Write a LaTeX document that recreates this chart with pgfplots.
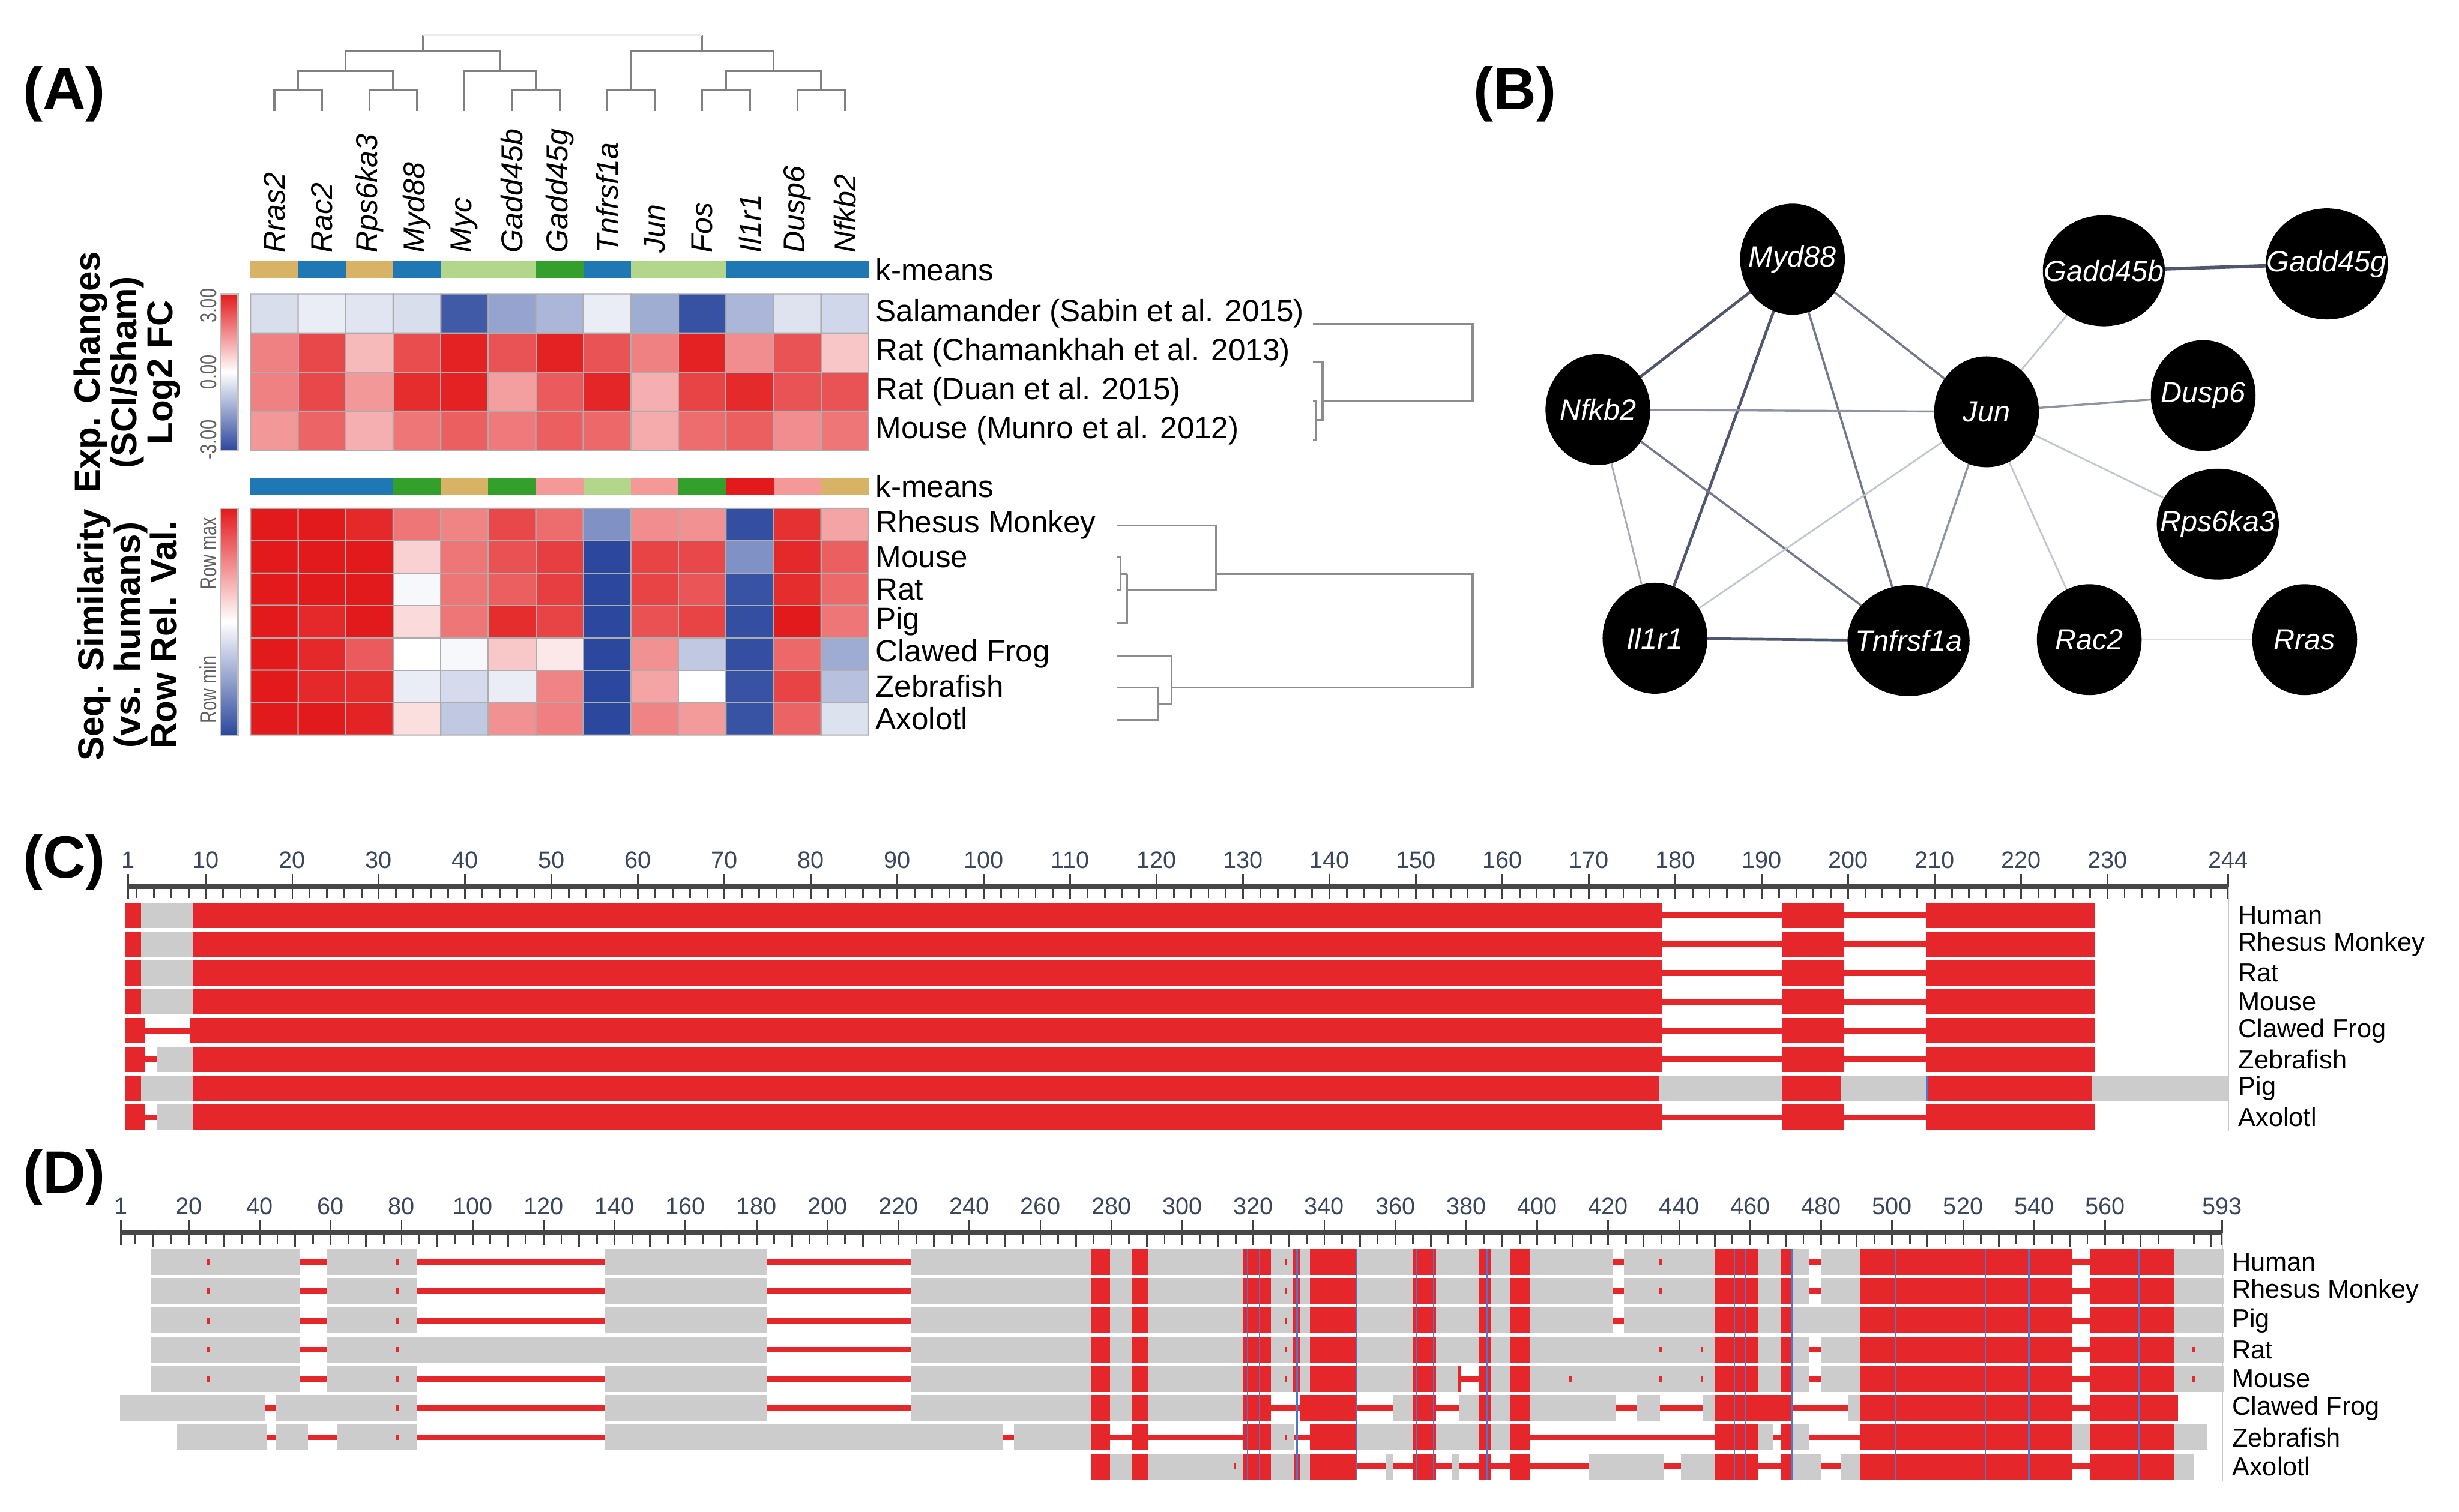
\documentclass[border=0pt]{standalone}
\usepackage{fontspec}
\setmainfont{Liberation Sans}
\usepackage{pgfplots}
\pgfplotsset{compat=1.18}

\definecolor{alnred}{RGB}{229,39,43}
\definecolor{alngray}{RGB}{204,204,204}
\definecolor{alnblue}{RGB}{78,118,205}
\definecolor{tickblue}{RGB}{58,70,92}
\definecolor{kmtan}{RGB}{216,178,101}
\definecolor{kmblue}{RGB}{31,120,180}
\definecolor{kmlgreen}{RGB}{178,214,138}
\definecolor{kmgreen}{RGB}{51,160,44}
\definecolor{kmpink}{RGB}{245,152,152}
\definecolor{kmred}{RGB}{227,26,28}
\definecolor{dendro}{RGB}{128,128,128}
\definecolor{edgeA}{RGB}{80,86,108}
\definecolor{edgeB}{RGB}{115,120,138}
\definecolor{edgeC}{RGB}{142,147,162}
\definecolor{edgeD}{RGB}{168,172,184}
\definecolor{edgeE}{RGB}{194,198,208}
\definecolor{edgeF}{RGB}{220,222,230}

\newcommand{\fs}[1]{\fontsize{#1}{#1}\selectfont}

\pgfplotsset{
  colormap={bwr}{rgb255=(44,72,158) rgb255=(255,255,255) rgb255=(227,26,28)},
  seg/.style={no markers, unbounded coords=jump, line cap=butt, line join=miter},
  heat/.style={scale only axis, anchor=south west, width=197.05pt, xmin=-0.5, xmax=12.5, clip=false,
    axis line style={draw=none}, tick style={draw=none}, colormap name=bwr,
    yticklabel pos=right,
    yticklabel style={anchor=west, inner sep=0pt, xshift=2pt, font=\fs{9.8}},
    colorbar, colorbar shift/.style={xshift=-4pt}},
  cbar/.style={at={(parent axis.south west)}, anchor=south east, width=5.6pt,
    yticklabel pos=left, axis line style={draw=black!25, line width=0.4pt}, tick style={draw=none},
    yticklabel style={rotate=90, xscale=0.75, anchor=south, inner sep=1pt, font=\fs{7.4}, text=black!62}},
  aln/.style={scale only axis, anchor=south west, ymin=-8.5, ymax=0, clip=false,
    axis x line*=top, axis y line*=right,
    x axis line style={line width=1.5pt, black!72},
    y axis line style={line width=0.4pt, black!22},
    tick align=center, major tick length=8pt, minor tick length=4pt,
    xtick style={black!75, line width=0.55pt},
    minor x tick style={yshift=-1.6pt},
    xticklabel style={font=\fs{7.6}, text=tickblue, inner sep=1.5pt},
    ytick={-1,-2,-3,-4,-5,-6,-7,-8}, ytick style={draw=none},
    yticklabel style={font=\fs{8.3}, anchor=west, inner sep=0pt, xshift=-1pt},
    /pgf/number format/assume math mode=true},
}

\begin{document}
\begin{tikzpicture}
\path[use as bounding box] (0,0) rectangle (784pt,482pt);

% ---------- canvas: panel letters, dendrograms, network ----------
\begin{axis}[at={(0pt,0pt)}, anchor=south west, scale only axis, width=784pt, height=482pt,
  xmin=0, xmax=1568, ymin=-964, ymax=0, hide axis, clip=false]
% gene dendrogram
\addplot[seg, dendro, line width=0.6pt] coordinates {
 (174.96,-70.8) (174.96,-57.4) (205.28,-57.4) (205.28,-70.8) (nan,nan)
 (235.6,-70.8) (235.6,-57.4) (265.9,-57.4) (265.9,-70.8) (nan,nan)
 (190.1,-57.4) (190.1,-45.3) (250.75,-45.3) (250.75,-57.4) (nan,nan)
 (326.5,-70.8) (326.5,-57.4) (356.9,-57.4) (356.9,-70.8) (nan,nan)
 (296.2,-70.8) (296.2,-45.3) (341.7,-45.3) (341.7,-57.4) (nan,nan)
 (220.4,-45.3) (220.4,-32.9) (318.95,-32.9) (318.95,-45.3) (nan,nan)
 (269.7,-32.9) (269.7,-22.3) (nan,nan)
 (387.2,-70.8) (387.2,-57.4) (417.5,-57.4) (417.5,-70.8) (nan,nan)
 (447.8,-70.8) (447.8,-57.4) (478.1,-57.4) (478.1,-70.8) (nan,nan)
 (508.5,-70.8) (508.5,-57.4) (538.8,-57.4) (538.8,-70.8) (nan,nan)
 (462.95,-57.4) (462.95,-45.3) (523.65,-45.3) (523.65,-57.4) (nan,nan)
 (402.35,-57.4) (402.35,-32.9) (493.3,-32.9) (493.3,-45.3) (nan,nan)
 (447.8,-32.9) (447.8,-22.3)
};
\addplot[seg, black!8, line width=0.6pt] coordinates {(269.7,-22.3) (447.8,-22.3)};
% study dendrogram
\addplot[seg, black!45, line width=0.6pt] coordinates {
 (837.2,-206.5) (939,-206.5) (939,-255.5) (843.3,-255.5) (nan,nan)
 (837.2,-231.2) (843.3,-231.2) (843.3,-267.9) (839.1,-267.9) (nan,nan)
 (837.2,-255.9) (839.1,-255.9) (839.1,-280.5) (837.2,-280.5)
};
% species dendrogram
\addplot[seg, black!45, line width=0.6pt] coordinates {
 (712.5,-335.3) (775.3,-335.3) (775.3,-376.4) (718.8,-376.4) (nan,nan)
 (775.3,-366.3) (939,-366.3) (939,-438.4) (747.2,-438.4) (nan,nan)
 (712.5,-418.3) (747.2,-418.3) (747.2,-448.7) (738.7,-448.7) (nan,nan)
 (712.5,-438.4) (738.7,-438.4) (738.7,-459.4) (712.5,-459.4) (nan,nan)
 (718.8,-366.3) (718.8,-397.4) (712.5,-397.4) (nan,nan)
 (714.5,-366.3) (718.8,-366.3) (nan,nan)
 (712.5,-355.6) (714.5,-355.6) (714.5,-376.4) (712.5,-376.4)
};
% network edges
\addplot[seg, edgeA, line width=0.9pt] coordinates {(1143.0,-165.3) (1018.9,-261.2) (nan,nan) (1143.0,-165.3) (1055.3,-407.1) (nan,nan) (1055.3,-407.1) (1217.0,-408.6)};
\addplot[seg, edgeA, line width=1.1pt] coordinates {(1341.5,-172.7) (1483.7,-168.3)};
\addplot[seg, edgeB, line width=0.7pt] coordinates {(1143.0,-165.3) (1217.0,-408.6) (nan,nan) (1143.0,-165.3) (1266.7,-262.6) (nan,nan) (1018.9,-261.2) (1217.0,-408.6)};
\addplot[seg, edgeC, line width=0.65pt] coordinates {(1266.7,-262.6) (1217.0,-408.6) (nan,nan) (1266.7,-262.6) (1404.9,-252.3) (nan,nan) (1018.9,-261.2) (1266.7,-262.6)};
\addplot[seg, edgeD, line width=0.55pt] coordinates {(1018.9,-261.2) (1055.3,-407.1)};
\addplot[seg, edgeE, line width=0.55pt] coordinates {(1055.3,-407.1) (1266.7,-262.6) (nan,nan) (1266.7,-262.6) (1341.5,-172.7) (nan,nan) (1266.7,-262.6) (1414.2,-334.3) (nan,nan) (1266.7,-262.6) (1332.2,-408.0)};
\addplot[seg, edgeF, line width=0.55pt] coordinates {(1332.2,-408.0) (1469.6,-408.0)};
% network nodes
\addplot[only marks, mark=*, mark size=17.5pt, mark options={fill=black, draw=black, xscale=0.943},
  nodes near coords, point meta=explicit symbolic,
  every node near coord/.append style={anchor=center, text=white, font=\itshape\fs{9.3}}]
  table[meta=label] {
x y label
1143.0 -165.3 Myd88
1018.9 -261.2 Nfkb2
1266.7 -262.6 Jun
1404.9 -252.3 Dusp6
1055.3 -407.1 Il1r1
1332.2 -408.0 Rac2
1469.6 -408.0 Rras
};
\addplot[only marks, mark=*, mark size=17.5pt, mark options={fill=black, draw=black, xscale=1.1},
  nodes near coords, point meta=explicit symbolic,
  every node near coord/.append style={anchor=center, text=white, font=\itshape\fs{9.3}}]
  table[meta=label] {
x y label
1341.5 -172.7 Gadd45b
1483.7 -168.3 Gadd45g
1414.2 -334.3 Rps6ka3
1217.0 -408.6 Tnfrsf1a
};
\node[font=\bfseries\fs{19}] at (axis cs:41,-60) {(A)};
\node[font=\bfseries\fs{19}] at (axis cs:966,-60) {(B)};
\node[font=\bfseries\fs{19}] at (axis cs:41,-550) {(C)};
\node[font=\bfseries\fs{19}] at (axis cs:41,-751) {(D)};
\node[rotate=90, align=center, font=\bfseries\fs{11.5}, inner sep=0pt] at (axis cs:81,-237.5) {Exp. Changes\\(SCI/Sham)\\Log2 FC};
\node[rotate=90, align=center, font=\bfseries\fs{11.5}, inner sep=0pt] at (axis cs:81,-405) {Seq. Similarity\\(vs. humans)\\Row Rel. Val.};
\end{axis}

% ---------- (A) expression heatmap ----------
\begin{axis}[heat, at={(79.9pt,338.4pt)}, height=49.9pt, ymin=-3.5, ymax=0.5,
  point meta min=-3, point meta max=3,
  xtick={0,1,2,3,4,5,6,7,8,9,10,11,12},
  xticklabels={Rras2,Rac2,Rps6ka3,Myd88,Myc,Gadd45b,Gadd45g,Tnfrsf1a,Jun,Fos,Il1r1,Dusp6,Nfkb2},
  xticklabel pos=right, xticklabel shift=12.85pt,
  xticklabel style={rotate=90, anchor=west, inner sep=0pt, font=\itshape\fs{9.6}},
  ytick={0,-1,-2,-3},
  yticklabels={{Salamander (Sabin et al. 2015)},{Rat (Chamankhah et al. 2013)},{Rat (Duan et al. 2015)},{Mouse (Munro et al. 2012)}},
  colorbar style={cbar, ytick={-2.6,0,2.55}, yticklabels={-3.00,0.00,3.00}}]
\addplot[matrix plot*, shader=faceted, faceted color=black!32, mesh/cols=13, point meta=explicit] table[meta=c] {
x y c
0 0 -0.54
1 0 -0.3
2 0 -0.42
3 0 -0.54
4 0 -2.7
5 0 -1.5
6 0 -1.2
7 0 -0.3
8 0 -1.35
9 0 -2.85
10 0 -1.2
11 0 -0.45
12 0 -0.66
0 -1 1.65
1 -1 2.4
2 -1 0.9
3 -1 2.34
4 -1 2.9
5 -1 2.25
6 -1 2.9
7 -1 2.25
8 -1 1.65
9 -1 2.9
10 -1 1.5
11 -1 2.25
12 -1 0.75
0 -2 1.65
1 -2 2.4
2 -2 1.35
3 -2 2.76
4 -2 2.9
5 -2 1.26
6 -2 2.16
7 -2 2.85
8 -2 1.05
9 -2 2.46
10 -2 2.8
11 -2 2.25
12 -2 2.25
0 -3 1.35
1 -3 2.04
2 -3 1.05
3 -3 1.8
4 -3 2.1
5 -3 1.74
6 -3 2.1
7 -3 1.98
8 -3 1.11
9 -3 1.92
10 -3 2.1
11 -3 1.5
12 -3 1.8
};
% k-means row
\addplot[seg, kmtan, line width=5.5pt] coordinates {(-0.5,1.121) (0.5,1.121) (nan,nan) (1.5,1.121) (2.5,1.121)};
\addplot[seg, kmblue, line width=5.5pt] coordinates {(0.5,1.121) (1.5,1.121) (nan,nan) (2.5,1.121) (3.5,1.121) (nan,nan) (6.5,1.121) (7.5,1.121) (nan,nan) (9.5,1.121) (12.5,1.121)};
\addplot[seg, kmlgreen, line width=5.5pt] coordinates {(3.5,1.121) (5.5,1.121) (nan,nan) (7.5,1.121) (9.5,1.121)};
\addplot[seg, kmgreen, line width=5.5pt] coordinates {(5.5,1.121) (6.5,1.121)};
\node[anchor=west, inner sep=0pt, xshift=2pt, font=\fs{9.8}] at (axis cs:12.5,1.121) {k-means};
\end{axis}

% ---------- (A) sequence similarity heatmap ----------
\begin{axis}[heat, at={(79.9pt,247.6pt)}, height=72.3pt, ymin=-6.5, ymax=0.5,
  point meta min=0, point meta max=1, xtick=\empty,
  ytick={0,-1,-2,-3,-4,-5,-6},
  yticklabels={Rhesus Monkey,Mouse,Rat,Pig,Clawed Frog,Zebrafish,Axolotl},
  colorbar style={cbar, ytick={0.2,0.8}, yticklabels={Row min,Row max}}]
\addplot[matrix plot*, shader=faceted, faceted color=black!32, mesh/cols=13, point meta=explicit] table[meta=c] {
x y c
0 0 1.0
1 0 1.0
2 0 0.97
3 0 0.8
4 0 0.77
5 0 0.9
6 0 0.82
7 0 0.2
8 0 0.75
9 0 0.74
10 0 0.02
11 0 0.95
12 0 0.7
0 -1 1.0
1 -1 1.0
2 -1 1.0
3 -1 0.6
4 -1 0.8
5 -1 0.88
6 -1 0.92
7 -1 0.0
8 -1 0.91
9 -1 0.9
10 -1 0.2
11 -1 0.97
12 -1 0.85
0 -2 1.0
1 -2 1.0
2 -2 1.0
3 -2 0.48
4 -2 0.8
5 -2 0.85
6 -2 0.92
7 -2 0.0
8 -2 0.91
9 -2 0.87
10 -2 0.03
11 -2 0.96
12 -2 0.83
0 -3 1.0
1 -3 0.97
2 -3 1.0
3 -3 0.58
4 -3 0.8
5 -3 0.96
6 -3 0.91
7 -3 0.0
8 -3 0.88
9 -3 0.91
10 -3 0.02
11 -3 1.0
12 -3 0.8
0 -4 1.0
1 -4 0.97
2 -4 0.86
3 -4 0.5
4 -4 0.48
5 -4 0.62
6 -4 0.55
7 -4 0.0
8 -4 0.74
9 -4 0.35
10 -4 0.02
11 -4 0.83
12 -4 0.27
0 -5 1.0
1 -5 0.97
2 -5 0.96
3 -5 0.45
4 -5 0.4
5 -5 0.45
6 -5 0.77
7 -5 0.0
8 -5 0.7
9 -5 0.5
10 -5 0.03
11 -5 0.91
12 -5 0.33
0 -6 1.0
1 -6 1.0
2 -6 0.98
3 -6 0.57
4 -6 0.35
5 -6 0.74
6 -6 0.78
7 -6 0.0
8 -6 0.77
9 -6 0.72
10 -6 0.03
11 -6 0.84
12 -6 0.42
};
\addplot[seg, kmblue, line width=5.25pt] coordinates {(-0.5,1.178) (2.5,1.178)};
\addplot[seg, kmgreen, line width=5.25pt] coordinates {(2.5,1.178) (3.5,1.178) (nan,nan) (4.5,1.178) (5.5,1.178) (nan,nan) (8.5,1.178) (9.5,1.178)};
\addplot[seg, kmtan, line width=5.25pt] coordinates {(3.5,1.178) (4.5,1.178) (nan,nan) (11.5,1.178) (12.5,1.178)};
\addplot[seg, kmpink, line width=5.25pt] coordinates {(5.5,1.178) (6.5,1.178) (nan,nan) (7.5,1.178) (8.5,1.178) (nan,nan) (10.5,1.178) (11.5,1.178)};
\addplot[seg, kmlgreen, line width=5.25pt] coordinates {(6.5,1.178) (7.5,1.178)};
\addplot[seg, kmred, line width=5.25pt] coordinates {(9.5,1.178) (10.5,1.178)};
\node[anchor=west, inner sep=0pt, xshift=2pt, font=\fs{9.8}] at (axis cs:12.5,1.178) {k-means};
\end{axis}

% ---------- (C) alignment, 244 residues ----------
\begin{axis}[aln, at={(40.85pt,121.15pt)}, width=669.6pt, height=78.2pt, xmin=1, xmax=244,
  xtick={1,10,20,30,40,50,60,70,80,90,100,110,120,130,140,150,160,170,180,190,200,210,220,230,244},
  minor xtick={2,4,...,244},
  yticklabels={Human,Rhesus Monkey,Rat,Mouse,Clawed Frog,Zebrafish,Pig,Axolotl}]
\addplot[seg, alngray, line width=8pt] coordinates {
 (2.5,-1) (8.5,-1) (nan,nan) (2.5,-2) (8.5,-2) (nan,nan) (2.5,-3) (8.5,-3) (nan,nan) (2.5,-4) (8.5,-4) (nan,nan)
 (4.3,-6) (8.5,-6) (nan,nan)
 (2.5,-7) (8.5,-7) (nan,nan) (178.1,-7) (192.4,-7) (nan,nan) (199.2,-7) (209.1,-7) (nan,nan) (228.2,-7) (244,-7) (nan,nan)
 (4.3,-8) (8.5,-8)
};
\addplot[seg, alnred, line width=1.8pt] coordinates {
 (178.5,-1) (192.4,-1) (nan,nan) (199.5,-1) (209.1,-1) (nan,nan)
 (178.5,-2) (192.4,-2) (nan,nan) (199.5,-2) (209.1,-2) (nan,nan)
 (178.5,-3) (192.4,-3) (nan,nan) (199.5,-3) (209.1,-3) (nan,nan)
 (178.5,-4) (192.4,-4) (nan,nan) (199.5,-4) (209.1,-4) (nan,nan)
 (2.9,-5) (8.2,-5) (nan,nan) (178.5,-5) (192.4,-5) (nan,nan) (199.5,-5) (209.1,-5) (nan,nan)
 (2.9,-6) (4.3,-6) (nan,nan) (178.5,-6) (192.4,-6) (nan,nan) (199.5,-6) (209.1,-6) (nan,nan)
 (2.9,-8) (4.3,-8) (nan,nan) (178.5,-8) (192.4,-8) (nan,nan) (199.5,-8) (209.1,-8)
};
\addplot[seg, alnred, line width=8pt] coordinates {
 (0.7,-1) (2.5,-1) (nan,nan) (8.5,-1) (178.5,-1) (nan,nan) (192.4,-1) (199.5,-1) (nan,nan) (209.1,-1) (228.5,-1) (nan,nan)
 (0.7,-2) (2.5,-2) (nan,nan) (8.5,-2) (178.5,-2) (nan,nan) (192.4,-2) (199.5,-2) (nan,nan) (209.1,-2) (228.5,-2) (nan,nan)
 (0.7,-3) (2.5,-3) (nan,nan) (8.5,-3) (178.5,-3) (nan,nan) (192.4,-3) (199.5,-3) (nan,nan) (209.1,-3) (228.5,-3) (nan,nan)
 (0.7,-4) (2.5,-4) (nan,nan) (8.5,-4) (178.5,-4) (nan,nan) (192.4,-4) (199.5,-4) (nan,nan) (209.1,-4) (228.5,-4) (nan,nan)
 (0.7,-5) (2.9,-5) (nan,nan) (8.2,-5) (178.5,-5) (nan,nan) (192.4,-5) (199.5,-5) (nan,nan) (209.1,-5) (228.5,-5) (nan,nan)
 (0.7,-6) (2.9,-6) (nan,nan) (8.5,-6) (178.5,-6) (nan,nan) (192.4,-6) (199.5,-6) (nan,nan) (209.1,-6) (228.5,-6) (nan,nan)
 (0.7,-7) (2.5,-7) (nan,nan) (8.5,-7) (178.1,-7) (nan,nan) (192.4,-7) (199.2,-7) (nan,nan) (209.1,-7) (228.2,-7) (nan,nan)
 (0.7,-8) (2.9,-8) (nan,nan) (8.5,-8) (178.5,-8) (nan,nan) (192.4,-8) (199.5,-8) (nan,nan) (209.1,-8) (228.5,-8)
};
\addplot[seg, alnblue, line width=0.45pt] coordinates {(209.1,-6.55) (209.1,-7.45)};
\end{axis}

% ---------- (D) alignment, 593 residues ----------
\begin{axis}[aln, at={(38.65pt,9.7pt)}, width=669.85pt, height=79.2pt, xmin=1, xmax=593,
  xtick={1,20,40,60,80,100,120,140,160,180,200,220,240,260,280,300,320,340,360,380,400,420,440,460,480,500,520,540,560,593},
  minor xtick={5,15,...,585},
  extra x ticks={10,30,...,590}, extra x tick labels={},
  extra x tick style={major tick length=5pt, yshift=-2pt},
  yticklabels={Human,Rhesus Monkey,Pig,Rat,Mouse,Clawed Frog,Zebrafish,Axolotl}]
\addplot[seg, alngray, line width=8.3pt] coordinates {
 (9.4,-1) (51.3,-1) (nan,nan) (58.8,-1) (84.4,-1) (nan,nan) (137.4,-1) (183.1,-1) (nan,nan) (223.4,-1) (274.2,-1) (nan,nan) (279.7,-1) (285.7,-1) (nan,nan) (290.5,-1) (317.2,-1) (nan,nan) (325,-1) (331,-1) (nan,nan) (333,-1) (336,-1) (nan,nan) (349.3,-1) (364.8,-1) (nan,nan) (371.4,-1) (383.6,-1) (nan,nan) (386.9,-1) (392.5,-1) (nan,nan) (398,-1) (421.2,-1) (nan,nan) (424.5,-1) (450,-1) (nan,nan) (462.1,-1) (468.8,-1) (nan,nan) (472.1,-1) (476.5,-1) (nan,nan) (479.9,-1) (490.9,-1) (nan,nan) (579.4,-1) (593.4,-1) (nan,nan)
 (9.4,-2) (51.3,-2) (nan,nan) (58.8,-2) (84.4,-2) (nan,nan) (137.4,-2) (183.1,-2) (nan,nan) (223.4,-2) (274.2,-2) (nan,nan) (279.7,-2) (285.7,-2) (nan,nan) (290.5,-2) (317.2,-2) (nan,nan) (325,-2) (331,-2) (nan,nan) (333,-2) (336,-2) (nan,nan) (349.3,-2) (364.8,-2) (nan,nan) (371.4,-2) (383.6,-2) (nan,nan) (386.9,-2) (392.5,-2) (nan,nan) (398,-2) (421.2,-2) (nan,nan) (424.5,-2) (450,-2) (nan,nan) (462.1,-2) (468.8,-2) (nan,nan) (472.1,-2) (476.5,-2) (nan,nan) (479.9,-2) (490.9,-2) (nan,nan) (579.4,-2) (593.4,-2) (nan,nan)
 (9.4,-3) (51.3,-3) (nan,nan) (58.8,-3) (84.4,-3) (nan,nan) (137.4,-3) (183.1,-3) (nan,nan) (223.4,-3) (274.2,-3) (nan,nan) (279.7,-3) (285.7,-3) (nan,nan) (290.5,-3) (317.2,-3) (nan,nan) (325,-3) (331,-3) (nan,nan) (333,-3) (336,-3) (nan,nan) (349.3,-3) (364.8,-3) (nan,nan) (371.4,-3) (383.6,-3) (nan,nan) (386.9,-3) (392.5,-3) (nan,nan) (398,-3) (421.2,-3) (nan,nan) (424.5,-3) (450,-3) (nan,nan) (462.1,-3) (468.8,-3) (nan,nan) (472.1,-3) (490.9,-3) (nan,nan) (579.4,-3) (593.4,-3) (nan,nan)
 (9.4,-4) (51.3,-4) (nan,nan) (58.8,-4) (183.1,-4) (nan,nan) (223.4,-4) (274.2,-4) (nan,nan) (279.7,-4) (285.7,-4) (nan,nan) (290.5,-4) (317.2,-4) (nan,nan) (325,-4) (331,-4) (nan,nan) (333,-4) (336,-4) (nan,nan) (349.3,-4) (364.8,-4) (nan,nan) (371.4,-4) (383.6,-4) (nan,nan) (386.9,-4) (392.5,-4) (nan,nan) (398,-4) (450,-4) (nan,nan) (462.1,-4) (468.8,-4) (nan,nan) (472.1,-4) (476.5,-4) (nan,nan) (479.9,-4) (490.9,-4) (nan,nan) (579.4,-4) (593.4,-4) (nan,nan)
 (9.4,-5) (51.3,-5) (nan,nan) (58.8,-5) (84.4,-5) (nan,nan) (137.4,-5) (183.1,-5) (nan,nan) (223.4,-5) (274.2,-5) (nan,nan) (279.7,-5) (285.7,-5) (nan,nan) (290.5,-5) (317.2,-5) (nan,nan) (325,-5) (331,-5) (nan,nan) (333,-5) (336,-5) (nan,nan) (349.3,-5) (364.8,-5) (nan,nan) (371.4,-5) (378.1,-5) (nan,nan) (386.9,-5) (392.5,-5) (nan,nan) (398,-5) (450,-5) (nan,nan) (462.1,-5) (468.8,-5) (nan,nan) (472.1,-5) (476.5,-5) (nan,nan) (479.9,-5) (490.9,-5) (nan,nan) (579.4,-5) (593.4,-5) (nan,nan)
 (0.6,-6) (41.4,-6) (nan,nan) (44.7,-6) (84.4,-6) (nan,nan) (137.4,-6) (183.1,-6) (nan,nan) (223.4,-6) (274.2,-6) (nan,nan) (279.7,-6) (285.7,-6) (nan,nan) (290.5,-6) (317.2,-6) (nan,nan) (359.3,-6) (364.8,-6) (nan,nan) (378.1,-6) (383.6,-6) (nan,nan) (386.9,-6) (392.5,-6) (nan,nan) (398,-6) (422.3,-6) (nan,nan) (428,-6) (434.5,-6) (nan,nan) (446.7,-6) (450,-6) (nan,nan) (487.6,-6) (490.9,-6) (nan,nan)
 (16.5,-7) (42.2,-7) (nan,nan) (44.7,-7) (53.6,-7) (nan,nan) (61.7,-7) (84.4,-7) (nan,nan) (137.4,-7) (249.4,-7) (nan,nan) (252.6,-7) (274.2,-7) (nan,nan) (325,-7) (331.6,-7) (nan,nan) (349.3,-7) (364.8,-7) (nan,nan) (371.4,-7) (383.6,-7) (nan,nan) (386.9,-7) (392.5,-7) (nan,nan) (462.1,-7) (466.5,-7) (nan,nan) (472.1,-7) (476.5,-7) (nan,nan) (550.7,-7) (555.7,-7) (nan,nan) (579.4,-7) (588.9,-7) (nan,nan)
 (279.7,-8) (285.7,-8) (nan,nan) (290.5,-8) (317.2,-8) (nan,nan) (325,-8) (331.6,-8) (nan,nan) (333,-8) (336,-8) (nan,nan) (357.5,-8) (359.3,-8) (nan,nan) (376,-8) (378.1,-8) (nan,nan) (414.5,-8) (435.6,-8) (nan,nan) (440.5,-8) (450,-8) (nan,nan) (472.1,-8) (479.9,-8) (nan,nan) (485.5,-8) (490.9,-8) (nan,nan) (579.4,-8) (585,-8)
};
\addplot[seg, alnred, line width=1.8pt] coordinates {
 (51.3,-1) (58.8,-1) (nan,nan) (84.4,-1) (137.4,-1) (nan,nan) (183.1,-1) (223.4,-1) (nan,nan) (421.2,-1) (424.5,-1) (nan,nan) (476.5,-1) (479.9,-1) (nan,nan) (550.7,-1) (555.7,-1) (nan,nan) (25,-1) (25.8,-1) (nan,nan) (78.5,-1) (79.3,-1) (nan,nan) (328.8,-1) (329.6,-1) (nan,nan) (434.3,-1) (435.1,-1) (nan,nan)
 (51.3,-2) (58.8,-2) (nan,nan) (84.4,-2) (137.4,-2) (nan,nan) (183.1,-2) (223.4,-2) (nan,nan) (421.2,-2) (424.5,-2) (nan,nan) (476.5,-2) (479.9,-2) (nan,nan) (550.7,-2) (555.7,-2) (nan,nan) (25,-2) (25.8,-2) (nan,nan) (78.5,-2) (79.3,-2) (nan,nan) (328.8,-2) (329.6,-2) (nan,nan) (434.3,-2) (435.1,-2) (nan,nan)
 (51.3,-3) (58.8,-3) (nan,nan) (84.4,-3) (137.4,-3) (nan,nan) (183.1,-3) (223.4,-3) (nan,nan) (421.2,-3) (424.5,-3) (nan,nan) (550.7,-3) (555.7,-3) (nan,nan) (25,-3) (25.8,-3) (nan,nan) (78.5,-3) (79.3,-3) (nan,nan) (328.8,-3) (329.6,-3) (nan,nan)
 (51.3,-4) (58.8,-4) (nan,nan) (183.1,-4) (223.4,-4) (nan,nan) (476.5,-4) (479.9,-4) (nan,nan) (550.7,-4) (555.7,-4) (nan,nan) (25,-4) (25.8,-4) (nan,nan) (78.5,-4) (79.3,-4) (nan,nan) (328.8,-4) (329.6,-4) (nan,nan) (434.3,-4) (435.1,-4) (nan,nan) (446,-4) (446.8,-4) (nan,nan) (584.6,-4) (585.4,-4) (nan,nan)
 (51.3,-5) (58.8,-5) (nan,nan) (84.4,-5) (137.4,-5) (nan,nan) (183.1,-5) (223.4,-5) (nan,nan) (378.1,-5) (383.6,-5) (nan,nan) (476.5,-5) (479.9,-5) (nan,nan) (550.7,-5) (555.7,-5) (nan,nan) (25,-5) (25.8,-5) (nan,nan) (78.5,-5) (79.3,-5) (nan,nan) (328.8,-5) (329.6,-5) (nan,nan) (409,-5) (409.8,-5) (nan,nan) (434.3,-5) (435.1,-5) (nan,nan) (446,-5) (446.8,-5) (nan,nan) (584.6,-5) (585.4,-5) (nan,nan)
 (41.4,-6) (44.7,-6) (nan,nan) (84.4,-6) (137.4,-6) (nan,nan) (183.1,-6) (223.4,-6) (nan,nan) (325,-6) (333,-6) (nan,nan) (349.3,-6) (359.3,-6) (nan,nan) (371.4,-6) (378.1,-6) (nan,nan) (422.3,-6) (428,-6) (nan,nan) (434.5,-6) (446.7,-6) (nan,nan) (472.1,-6) (487.6,-6) (nan,nan) (550.7,-6) (555.7,-6) (nan,nan) (78.5,-6) (79.3,-6) (nan,nan)
 (42.2,-7) (44.7,-7) (nan,nan) (53.6,-7) (61.7,-7) (nan,nan) (84.4,-7) (137.4,-7) (nan,nan) (249.4,-7) (252.6,-7) (nan,nan) (279.7,-7) (285.7,-7) (nan,nan) (290.5,-7) (317.2,-7) (nan,nan) (331.6,-7) (336,-7) (nan,nan) (398,-7) (450,-7) (nan,nan) (466.5,-7) (468.8,-7) (nan,nan) (476.5,-7) (490.9,-7) (nan,nan) (78.5,-7) (79.3,-7) (nan,nan) (328.8,-7) (329.6,-7) (nan,nan)
 (349.3,-8) (357.5,-8) (nan,nan) (359.3,-8) (364.8,-8) (nan,nan) (371.4,-8) (376,-8) (nan,nan) (378.1,-8) (383.6,-8) (nan,nan) (386.9,-8) (392.5,-8) (nan,nan) (398,-8) (414.5,-8) (nan,nan) (435.6,-8) (440.5,-8) (nan,nan) (462.1,-8) (468.8,-8) (nan,nan) (479.9,-8) (485.5,-8) (nan,nan) (550.7,-8) (555.7,-8) (nan,nan) (314.4,-8) (315.2,-8)
};
\addplot[seg, alnred, line width=8.3pt] coordinates {
 (274.2,-1) (279.7,-1) (nan,nan) (285.7,-1) (290.5,-1) (nan,nan) (317.2,-1) (325,-1) (nan,nan) (331,-1) (333,-1) (nan,nan) (336,-1) (349.3,-1) (nan,nan) (364.8,-1) (371.4,-1) (nan,nan) (383.6,-1) (386.9,-1) (nan,nan) (392.5,-1) (398,-1) (nan,nan) (450,-1) (462.1,-1) (nan,nan) (468.8,-1) (472.1,-1) (nan,nan) (490.9,-1) (550.7,-1) (nan,nan) (555.7,-1) (579.4,-1) (nan,nan)
 (274.2,-2) (279.7,-2) (nan,nan) (285.7,-2) (290.5,-2) (nan,nan) (317.2,-2) (325,-2) (nan,nan) (331,-2) (333,-2) (nan,nan) (336,-2) (349.3,-2) (nan,nan) (364.8,-2) (371.4,-2) (nan,nan) (383.6,-2) (386.9,-2) (nan,nan) (392.5,-2) (398,-2) (nan,nan) (450,-2) (462.1,-2) (nan,nan) (468.8,-2) (472.1,-2) (nan,nan) (490.9,-2) (550.7,-2) (nan,nan) (555.7,-2) (579.4,-2) (nan,nan)
 (274.2,-3) (279.7,-3) (nan,nan) (285.7,-3) (290.5,-3) (nan,nan) (317.2,-3) (325,-3) (nan,nan) (331,-3) (333,-3) (nan,nan) (336,-3) (349.3,-3) (nan,nan) (364.8,-3) (371.4,-3) (nan,nan) (383.6,-3) (386.9,-3) (nan,nan) (392.5,-3) (398,-3) (nan,nan) (450,-3) (462.1,-3) (nan,nan) (468.8,-3) (472.1,-3) (nan,nan) (490.9,-3) (550.7,-3) (nan,nan) (555.7,-3) (579.4,-3) (nan,nan)
 (274.2,-4) (279.7,-4) (nan,nan) (285.7,-4) (290.5,-4) (nan,nan) (317.2,-4) (325,-4) (nan,nan) (331,-4) (333,-4) (nan,nan) (336,-4) (349.3,-4) (nan,nan) (364.8,-4) (371.4,-4) (nan,nan) (383.6,-4) (386.9,-4) (nan,nan) (392.5,-4) (398,-4) (nan,nan) (450,-4) (462.1,-4) (nan,nan) (468.8,-4) (472.1,-4) (nan,nan) (490.9,-4) (550.7,-4) (nan,nan) (555.7,-4) (579.4,-4) (nan,nan)
 (274.2,-5) (279.7,-5) (nan,nan) (285.7,-5) (290.5,-5) (nan,nan) (317.2,-5) (325,-5) (nan,nan) (331,-5) (333,-5) (nan,nan) (336,-5) (349.3,-5) (nan,nan) (364.8,-5) (371.4,-5) (nan,nan) (377.8,-5) (378.6,-5) (nan,nan) (383.6,-5) (386.9,-5) (nan,nan) (392.5,-5) (398,-5) (nan,nan) (450,-5) (462.1,-5) (nan,nan) (468.8,-5) (472.1,-5) (nan,nan) (490.9,-5) (550.7,-5) (nan,nan) (555.7,-5) (579.4,-5) (nan,nan)
 (274.2,-6) (279.7,-6) (nan,nan) (285.7,-6) (290.5,-6) (nan,nan) (317.2,-6) (325,-6) (nan,nan) (333,-6) (349.3,-6) (nan,nan) (364.8,-6) (371.4,-6) (nan,nan) (383.6,-6) (386.9,-6) (nan,nan) (392.5,-6) (398,-6) (nan,nan) (450,-6) (472.1,-6) (nan,nan) (490.9,-6) (550.7,-6) (nan,nan) (555.7,-6) (580.5,-6) (nan,nan)
 (274.2,-7) (279.7,-7) (nan,nan) (285.7,-7) (290.5,-7) (nan,nan) (317.2,-7) (325,-7) (nan,nan) (336,-7) (349.3,-7) (nan,nan) (364.8,-7) (371.4,-7) (nan,nan) (383.6,-7) (386.9,-7) (nan,nan) (392.5,-7) (398,-7) (nan,nan) (450,-7) (462.1,-7) (nan,nan) (468.8,-7) (472.1,-7) (nan,nan) (490.9,-7) (550.7,-7) (nan,nan) (555.7,-7) (579.4,-7) (nan,nan)
 (274.2,-8) (279.7,-8) (nan,nan) (285.7,-8) (290.5,-8) (nan,nan) (317.2,-8) (325,-8) (nan,nan) (331.6,-8) (333,-8) (nan,nan) (336,-8) (349.3,-8) (nan,nan) (364.8,-8) (371.4,-8) (nan,nan) (383.6,-8) (386.9,-8) (nan,nan) (392.5,-8) (398,-8) (nan,nan) (450,-8) (462.1,-8) (nan,nan) (468.8,-8) (472.1,-8) (nan,nan) (490.9,-8) (550.7,-8) (nan,nan) (555.7,-8) (579.4,-8)
};
\addplot[seg, alnblue, line width=0.45pt] coordinates {
 (318.3,-0.55) (318.3,-8.45) (nan,nan) (321.7,-0.55) (321.7,-8.45) (nan,nan) (332.3,-0.55) (332.3,-8.45) (nan,nan)
 (349.1,-0.55) (349.1,-8.45) (nan,nan) (365.9,-0.55) (365.9,-8.45) (nan,nan) (370.8,-0.55) (370.8,-8.45) (nan,nan)
 (385.8,-0.55) (385.8,-8.45) (nan,nan) (455.5,-0.55) (455.5,-8.45) (nan,nan) (458.8,-0.55) (458.8,-8.45) (nan,nan)
 (471.7,-0.55) (471.7,-8.45) (nan,nan) (500.9,-0.55) (500.9,-8.45) (nan,nan) (526.3,-0.55) (526.3,-8.45) (nan,nan)
 (538.5,-0.55) (538.5,-8.45) (nan,nan) (569.5,-0.55) (569.5,-8.45)
};
\end{axis}
\end{tikzpicture}
\end{document}
